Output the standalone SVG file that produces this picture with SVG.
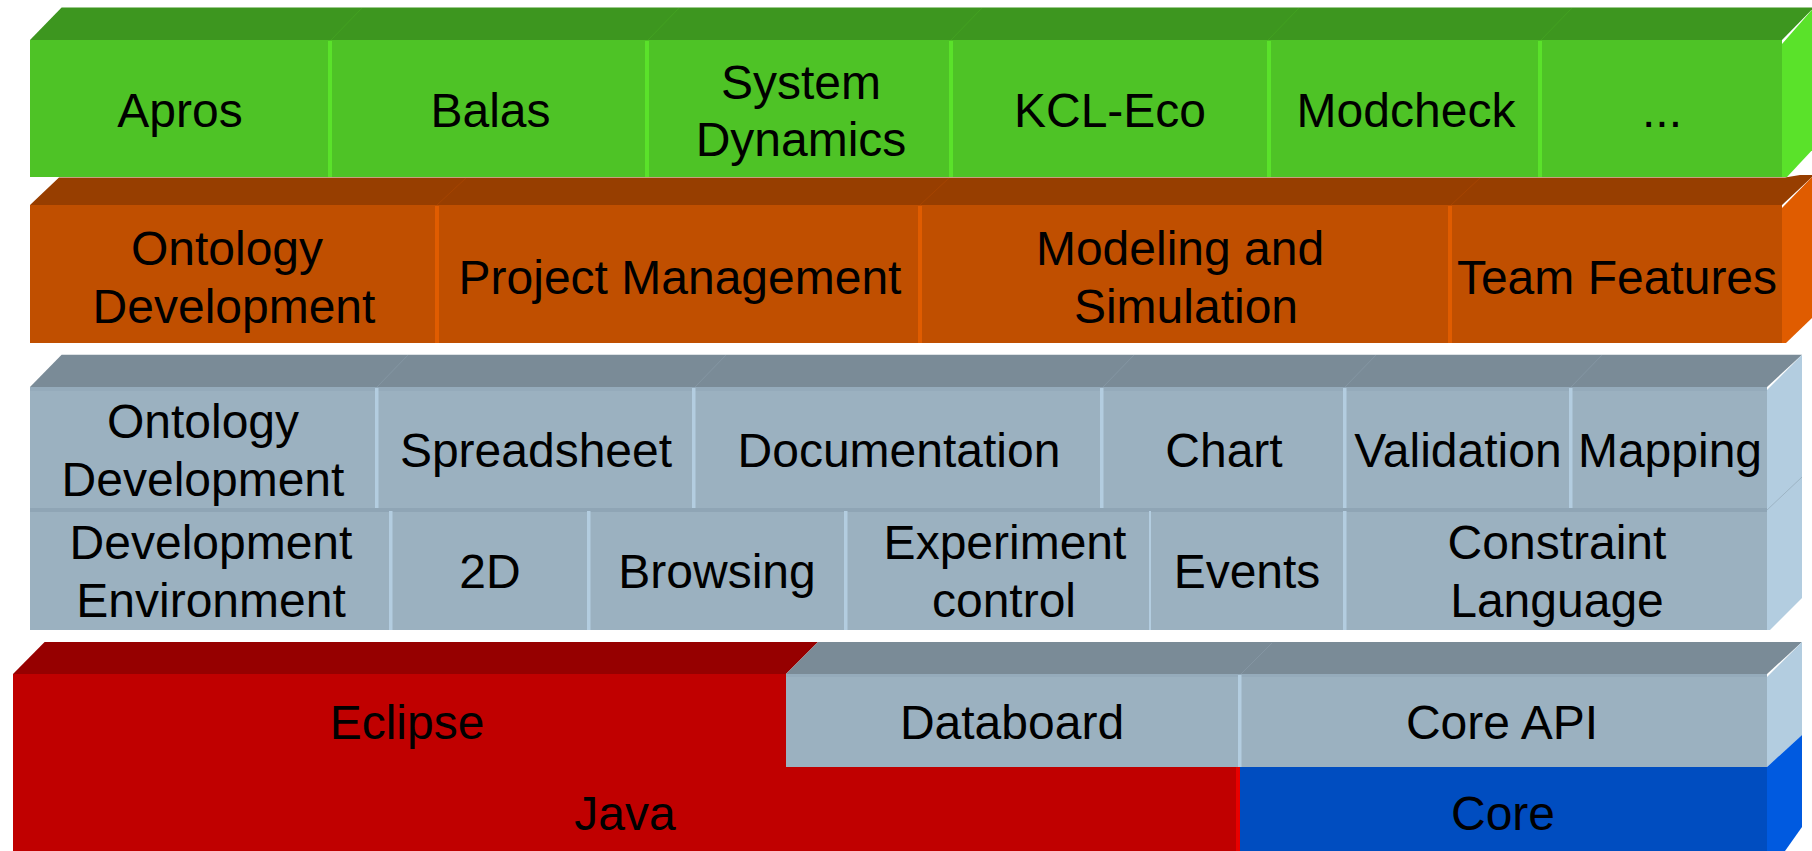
<svg xmlns="http://www.w3.org/2000/svg" width="1812" height="851" viewBox="0 0 1812 851">
<style>
text{font-family:"Liberation Sans",Arial,sans-serif;font-size:48px;fill:#000;text-anchor:middle}
.gf{fill:#4EC326}.gt{fill:#3D961F}.gs{fill:#5AE22A}
.of{fill:#C04F00}.ot{fill:#973E00}.os{fill:#E05C00}
.sf{fill:#9BB1C0}.st{fill:#7A8B97}.ss{fill:#B3CDE0}
.rf{fill:#C00000}.rt{fill:#960000}.rs{fill:#E80000}
.bf{fill:#004DC0}.bs{fill:#005AE0}
.gl{stroke:#46A822;stroke-width:1;fill:none;opacity:.6}
.ol{stroke:#AE4700;stroke-width:1;fill:none;opacity:.6}
.sl{stroke:#8A9DAA;stroke-width:1;fill:none;opacity:.6}
.band{fill:#8FA5B5;opacity:.5}
</style>
<rect width="1812" height="851" fill="#fff"/>

<g id="layer-applications">
<polygon class="gt" points="61.600,7.500 1814,7.500 1782,40 30,40"/>
<polygon class="gs" points="1782,44 1814,7.500 1814,148 1787,177 1782,177"/>
<rect class="gf" x="30" y="40" width="1752" height="137"/>
<path class="gl" d="M331 40L362 8M648 40L679 8M951 40L982 8M1268 40L1299 8M1541 40L1572 8"/>
<g class="gs"><rect x="328" y="41" width="4" height="136"/><rect x="645" y="41" width="4" height="136"/><rect x="949" y="41" width="4" height="136"/><rect x="1267" y="41" width="4" height="136"/><rect x="1538" y="41" width="4" height="136"/></g>
<g id="apros"><text x="180" y="127">Apros</text></g>
<g id="balas"><text x="490.500" y="127">Balas</text></g>
<g id="system-dynamics"><text x="801" y="99">System</text><text x="801" y="156">Dynamics</text></g>
<g id="kcl-eco"><text x="1110" y="127">KCL-Eco</text></g>
<g id="modcheck"><text x="1406" y="127">Modcheck</text></g>
<g id="more"><text x="1662" y="127">...</text></g>
</g>

<g id="layer-features">
<polygon class="ot" points="59,177.500 1785,177.500 1800,175 1814,175 1782,205 30,205"/>
<polygon class="os" points="1782,208 1814,175 1814,316 1786,343 1782,343"/>
<rect class="of" x="30" y="205" width="1752" height="138"/>
<path class="ol" d="M437 205L466 178M920 205L949 178M1451 205L1480 178"/>
<g class="os"><rect x="435" y="206" width="4" height="137"/><rect x="918" y="206" width="4" height="137"/><rect x="1448" y="206" width="4" height="137"/></g>
<g id="ontology-development-top"><text x="227" y="265">Ontology</text><text x="234" y="322.500">Development</text></g>
<g id="project-management"><text x="680" y="294">Project Management</text></g>
<g id="modeling-simulation"><text x="1180" y="265">Modeling and</text><text x="1186" y="322.500">Simulation</text></g>
<g id="team-features"><text x="1617" y="294">Team Features</text></g>
</g>

<g id="layer-platform">
<polygon class="st" points="61.600,354.700 1802,354.700 1767,387 30,387"/>
<polygon class="ss" points="1767,390 1802,354.700 1802,598 1770,630 1767,630"/>
<path d="M1767 510L1802 477" stroke="#9DB4C4" stroke-width="1" fill="none"/>
<rect class="sf" x="30" y="387" width="1737" height="243"/>
<rect class="band" x="30" y="387" width="1737" height="4"/>
<rect x="30" y="508" width="1737" height="4" fill="#8FA5B5"/>
<path class="sl" d="M377 387L408 355M695 387L726 355M1103 387L1134 355M1345 387L1376 355M1571 387L1602 355"/>
<g class="ss"><rect x="375" y="388" width="3.500" height="120"/><rect x="692" y="388" width="3.500" height="120"/><rect x="1100" y="388" width="3.500" height="120"/><rect x="1343" y="388" width="3.500" height="120"/><rect x="1569" y="388" width="3.500" height="120"/>
<rect x="389" y="511" width="3.500" height="119"/><rect x="587" y="511" width="3.500" height="119"/><rect x="844" y="511" width="3.500" height="119"/><rect x="1149" y="511" width="2" height="119"/><rect x="1343" y="511" width="3.500" height="119"/></g>
<g id="ontology-development"><text x="203" y="438">Ontology</text><text x="203" y="496">Development</text></g>
<g id="spreadsheet"><text x="536" y="467">Spreadsheet</text></g>
<g id="documentation"><text x="899" y="467">Documentation</text></g>
<g id="chart"><text x="1224" y="467">Chart</text></g>
<g id="validation"><text x="1458" y="467">Validation</text></g>
<g id="mapping"><text x="1670" y="467">Mapping</text></g>
<g id="development-environment"><text x="211" y="559">Development</text><text x="211" y="617">Environment</text></g>
<g id="two-d"><text x="490" y="588">2D</text></g>
<g id="browsing"><text x="717" y="588">Browsing</text></g>
<g id="experiment-control"><text x="1005" y="559">Experiment</text><text x="1004" y="617">control</text></g>
<g id="events"><text x="1247" y="588">Events</text></g>
<g id="constraint-language"><text x="1557" y="559">Constraint</text><text x="1557" y="617">Language</text></g>
</g>

<g id="layer-base">
<polygon class="rt" points="44.600,642 818,642 786,674 13,674"/>
<polygon class="st" points="818,642 1802,642 1767,674 786,674"/>
<polygon class="ss" points="1767,677 1802,642 1802,735 1767,767"/>
<polygon class="bs" points="1767,767 1802,735 1802,827 1785,851 1767,851"/>
<rect class="rf" x="13" y="674" width="773" height="93"/>
<rect class="sf" x="786" y="674" width="981" height="93"/>
<rect class="band" x="786" y="674" width="981" height="3"/>
<path class="sl" d="M1241 674L1272 643"/>
<rect class="ss" x="1238" y="675" width="3.500" height="92"/>
<rect class="rf" x="13" y="767" width="1225" height="84"/>
<rect class="rs" x="1236" y="767" width="4" height="84"/>
<rect class="bf" x="1240" y="767" width="527" height="84"/>
<g id="eclipse"><text x="407" y="739">Eclipse</text></g>
<g id="databoard"><text x="1012" y="739">Databoard</text></g>
<g id="core-api"><text x="1502" y="739">Core API</text></g>
<g id="java"><text x="625" y="830">Java</text></g>
<g id="core"><text x="1503" y="830">Core</text></g>
</g>
</svg>
